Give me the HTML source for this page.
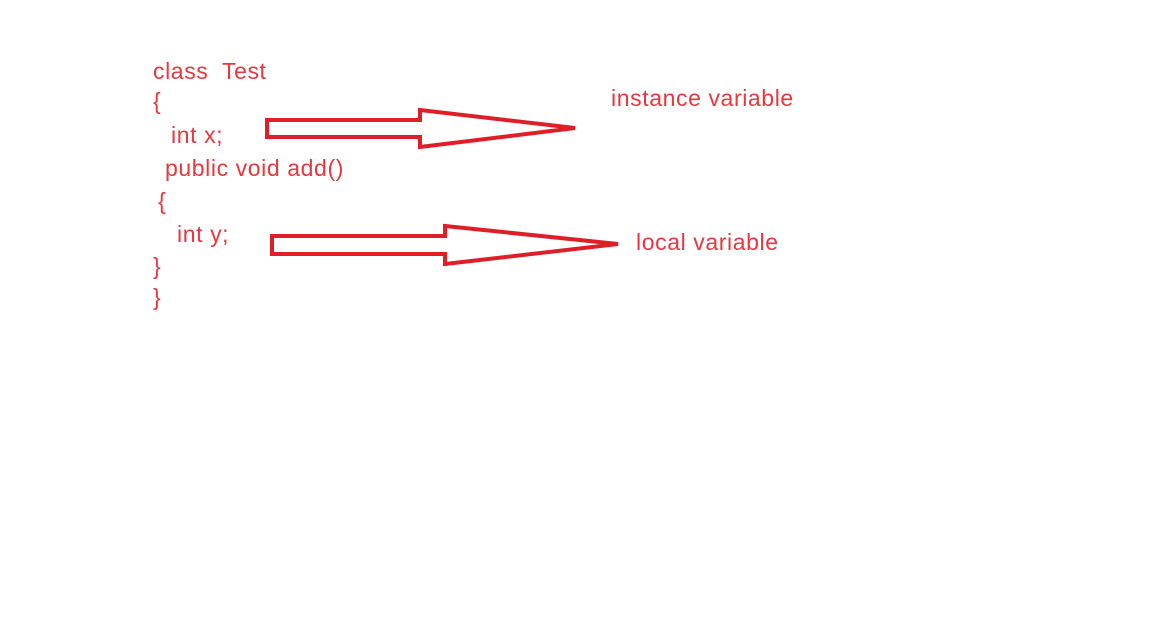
<!DOCTYPE html>
<html><head><style>
body{margin:0;width:1152px;height:639px;background:#fff;position:relative;overflow:hidden;font-family:"Liberation Sans",sans-serif;color:#e8373e;font-size:23px;letter-spacing:0.6px}
.t{position:absolute;white-space:pre;line-height:26px}
</style></head><body>
<div class="t" style="left:153px;top:58px">class  Test</div>
<div class="t" style="left:153px;top:88px">{</div>
<div class="t" style="left:171px;top:122px">int x;</div>
<div class="t" style="left:165px;top:155px">public void add()</div>
<div class="t" style="left:158px;top:188px">{</div>
<div class="t" style="left:177px;top:221px">int y;</div>
<div class="t" style="left:153px;top:253px">}</div>
<div class="t" style="left:153px;top:284px">}</div>
<div class="t" style="left:611px;top:85px">instance variable</div>
<div class="t" style="left:636px;top:229px">local variable</div>
<svg width="1152" height="639" style="position:absolute;left:0;top:0">
<g fill="none" stroke="#e01e28" stroke-width="4" stroke-linejoin="miter">
<polygon points="267,120 420,120 420,110 575,128 420,147 420,137 267,137"/>
<polygon points="272,236 445,236 445,226 618,244 445,264 445,254 272,254"/>
</g>
</svg>
</body></html>
